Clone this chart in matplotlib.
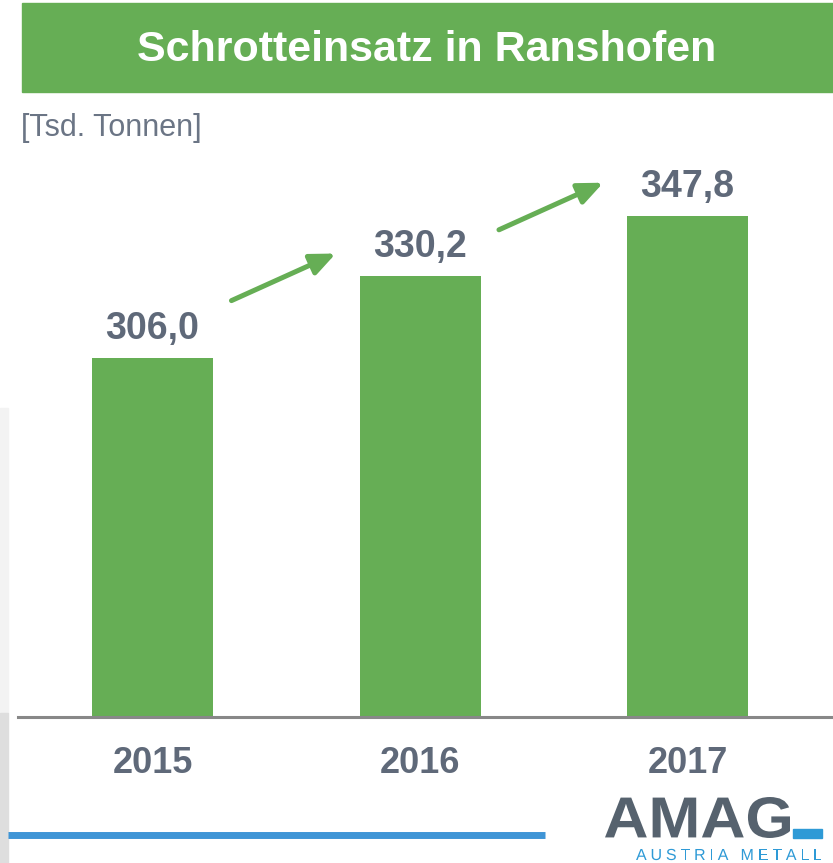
import matplotlib.pyplot as plt
from matplotlib.patches import Rectangle, PathPatch
from matplotlib.textpath import TextPath, text_to_path
from matplotlib.font_manager import FontProperties
from matplotlib.transforms import Affine2D, IdentityTransform

# data
years = ["2015", "2016", "2017"]
values = [306.0, 330.2, 347.8]
value_labels = ["306,0", "330,2", "347,8"]

green = "#66ae55"
label_grey = "#5f6979"
W, H = 833, 863

plt.rcParams['font.family'] = ['Liberation Sans', 'DejaVu Sans']

fig = plt.figure(figsize=(W / 100, H / 100), dpi=100)
fig.patch.set_facecolor("white")


def fx(px):
    return px / W


def fy(py):
    return 1 - py / H


# title banner
fig.patches.append(Rectangle((fx(22), fy(92)), fx(833) - fx(22), fy(3) - fy(92),
                             transform=fig.transFigure, color=green, zorder=0))
fig.text(fx(427), fy(50), "Schrotteinsatz in Ranshofen", color="white",
         fontsize=31, fontweight="bold", ha="center", va="center")
fig.text(fx(21), fy(128), "[Tsd. Tonnen]", color="#6b7585", fontsize=22,
         ha="left", va="center")

# chart area: baseline at 717px, y axis starts at 200
ax = fig.add_axes([fx(18), fy(717), fx(833) - fx(18), fy(160) - fy(717)])
px_per_unit = 3.388
ax.set_ylim(200, 200 + 557 / px_per_unit)
ax.set_xlim(-0.503, -0.503 + 815 / 267.5)

xs = list(range(len(years)))
ax.bar(xs, values, width=0.452, color=green, zorder=2)

for x, v, lab in zip(xs, values, value_labels):
    ax.annotate(lab, (x, v), xytext=(0, 8), textcoords="offset points",
                ha="center", va="bottom", fontsize=27, fontweight="bold",
                color=label_grey)

# growth arrows between the bars
for i in range(len(values) - 1):
    y0 = (values[i] + values[i + 1]) / 2 + 4.8
    start = (i + 0.295, y0)
    end = (i + 0.685, y0 + 13.9)
    ax.annotate("", xy=end, xytext=start,
                arrowprops=dict(arrowstyle="-|>,head_length=1.5,head_width=0.65",
                                mutation_scale=10, lw=3.6, color=green,
                                shrinkA=0, shrinkB=0))

ax.set_xticks(xs)
ax.set_xticklabels(years, fontsize=26, fontweight="bold", color=label_grey)
ax.tick_params(axis="x", length=0, pad=21)
ax.set_yticks([])
for s in ["top", "right", "left"]:
    ax.spines[s].set_visible(False)
ax.spines["bottom"].set_color("#888888")
ax.spines["bottom"].set_linewidth(2.2)
ax.set_facecolor("none")

# faint photo edge on the left
fig.patches.append(Rectangle((0, fy(713)), fx(8), fy(408) - fy(713), transform=fig.transFigure,
                             color="#f3f3f3", zorder=0))
fig.patches.append(Rectangle((0, 0), fx(8), fy(713), transform=fig.transFigure,
                             color="#dedede", zorder=0))

# blue footer line
fig.add_artist(plt.Line2D([fx(8), fx(545)], [fy(835), fy(835)], color="#3f95d6",
                          lw=5, solid_capstyle="butt"))

# logo, drawn as paths in pixel coordinates
bold = FontProperties(family="Liberation Sans", weight="bold")
tp = TextPath((0, 0), "AMAG", size=56, prop=bold)
ext = tp.get_extents()
sx = 185 / ext.width
tr = Affine2D().translate(-ext.x0, -ext.y0).scale(sx, 41 / ext.height).translate(605, H - 838)
fig.patches.append(PathPatch(tr.transform_path(tp), color="#56626e", lw=0,
                             transform=IdentityTransform()))
fig.patches.append(Rectangle((fx(793), fy(838)), fx(29), fy(829) - fy(838),
                             transform=fig.transFigure, color="#2e9ad6"))

reg = FontProperties(family="Liberation Sans", size=16)
word = "AUSTRIA METALL"
widths = [text_to_path.get_text_width_height_descent(c, reg, ismath=False)[0] for c in word]
gap = (186 - sum(widths)) / (len(word) - 1)
cx = 636
for c, w in zip(word, widths):
    if c != " ":
        cp = TextPath((0, 0), c, size=16, prop=reg)
        t = Affine2D().translate(cx, H - 860)
        fig.patches.append(PathPatch(t.transform_path(cp), color="#2e9ad6", lw=0,
                                     transform=IdentityTransform()))
    cx += w + gap

fig.savefig("out.png", dpi=100)
